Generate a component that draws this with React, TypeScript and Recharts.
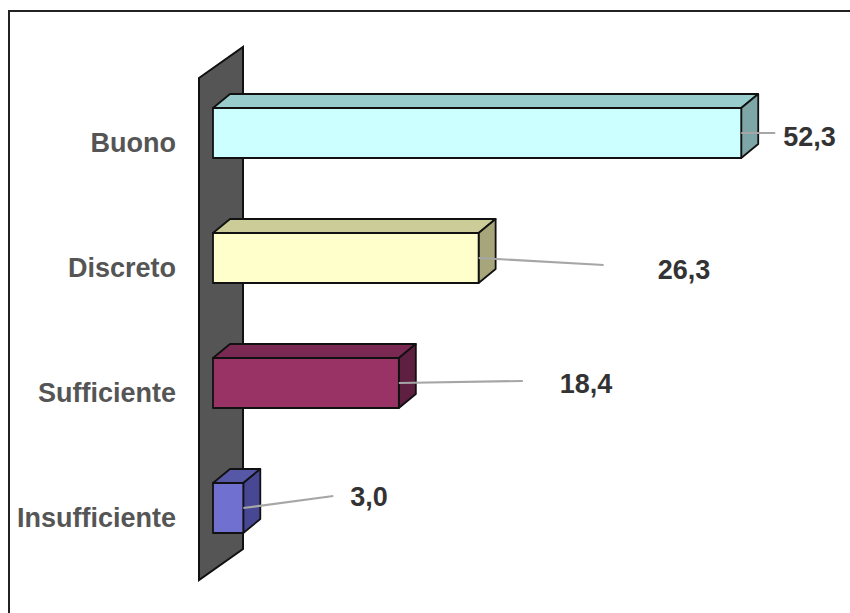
import React from "react";
import { Bar, BarChart, LabelList, XAxis, YAxis } from "recharts";

const categories = ["Buono", "Discreto", "Sufficiente", "Insufficiente"];
const values = [52.3, 26.3, 18.4, 3.0];

// front / top / side shading per bar
const faceColors = [
  { front: "#ccffff", top: "#99cccc", side: "#7fa6a6" },
  { front: "#ffffcc", top: "#cccc99", side: "#a6a67a" },
  { front: "#993366", top: "#7a2952", side: "#5e1f40" },
  { front: "#7070d0", top: "#5757a8", side: "#474794" }
];

// leader line end and label start, relative to bar end / bar middle
const labelOffsets = [
  { lx: 34, ly: 0, tx: 42, ty: 4 },
  { lx: 125, ly: 7, tx: 179, ty: 12 },
  { lx: 124, ly: -2, tx: 161, ty: 1 },
  { lx: 90, ly: -12, tx: 107, ty: -11 }
];

const data = categories.map((name, i) => ({ name, value: values[i] }));

const W = 850;
const H = 613;
const PLOT_LEFT = 213;
const PLOT_TOP = 70;
const PLOT_BOTTOM = 570;
const DEPTH_X = 17;
const DEPTH_Y = 14;
const FONT = "'Liberation Sans', Arial, sans-serif";

const fmt = (v: number) => v.toFixed(1).replace(".", ",");

function Box3D(props: any) {
  const { x, y, width, height, payload } = props;
  const c = faceColors[categories.indexOf(payload?.name)] ?? faceColors[0];
  const x2 = x + width;
  const y2 = y + height;
  return (
    <g stroke="#111" strokeWidth={1.8} strokeLinejoin="round">
      <polygon
        points={`${x},${y} ${x + DEPTH_X},${y - DEPTH_Y} ${x2 + DEPTH_X},${y - DEPTH_Y} ${x2},${y}`}
        fill={c.top}
      />
      <polygon
        points={`${x2},${y} ${x2 + DEPTH_X},${y - DEPTH_Y} ${x2 + DEPTH_X},${y2 - DEPTH_Y} ${x2},${y2}`}
        fill={c.side}
      />
      <rect x={x} y={y} width={width} height={height} fill={c.front} />
    </g>
  );
}

function ValueLabel(props: any) {
  const vb = props.viewBox ?? props;
  const x = vb.x ?? props.x;
  const y = vb.y ?? props.y;
  const width = vb.width ?? props.width;
  const height = vb.height ?? props.height;
  let i = props.index;
  if (i == null) i = values.indexOf(Number(props.value));
  const o = labelOffsets[i] ?? labelOffsets[0];
  const ex = x + width;
  const cy = y + height / 2;
  return (
    <g>
      <line x1={ex} y1={cy} x2={ex + o.lx} y2={cy + o.ly} stroke="#a6a6a6" strokeWidth={2.2} />
      <text
        x={ex + o.tx}
        y={cy + o.ty}
        dominantBaseline="central"
        fontFamily={FONT}
        fontWeight="bold"
        fontSize={27}
        fill="#333"
      >
        {fmt(Number(props.value))}
      </text>
    </g>
  );
}

function CategoryTick(props: any) {
  const { y, payload } = props;
  return (
    <text
      x={176}
      y={y + 10}
      textAnchor="end"
      dominantBaseline="central"
      fontFamily={FONT}
      fontWeight="bold"
      fontSize={27}
      fill="#555"
    >
      {payload.value}
    </text>
  );
}

function Wall() {
  const fx = PLOT_LEFT - 14;
  const bx = PLOT_LEFT + 30;
  const top = PLOT_TOP + 8;
  const bottom = PLOT_BOTTOM + 10;
  return (
    <svg width={W} height={H} style={{ position: "absolute", left: 0, top: 0 }}>
      <polygon
        points={`${fx},${top} ${bx},${top - 31} ${bx},${bottom - 31} ${fx},${bottom}`}
        fill="#555"
        stroke="#111"
        strokeWidth={2}
      />
    </svg>
  );
}

export default function App() {
  return (
    <div style={{ position: "absolute", left: 0, top: 0, width: W, height: H, overflow: "hidden", background: "#fff" }}>
      <div
        style={{
          position: "absolute",
          left: 8,
          top: 10,
          width: W,
          height: H,
          borderLeft: "2px solid #222",
          borderTop: "2px solid #222"
        }}
      />
      <Wall />
      <div style={{ position: "absolute", left: 0, top: 0 }}>
        <BarChart
          width={W}
          height={H}
          data={data}
          layout="vertical"
          margin={{ top: PLOT_TOP, bottom: H - PLOT_BOTTOM, left: 0, right: W - PLOT_LEFT - 606 }}
          barSize={50}
        >
          <XAxis type="number" domain={[0, 60]} hide />
          <YAxis
            type="category"
            dataKey="name"
            width={PLOT_LEFT}
            axisLine={false}
            tickLine={false}
            tick={<CategoryTick />}
            interval={0}
          />
          <Bar dataKey="value" shape={<Box3D />} isAnimationActive={false}>
            <LabelList dataKey="value" content={<ValueLabel />} />
          </Bar>
        </BarChart>
      </div>
    </div>
  );
}
